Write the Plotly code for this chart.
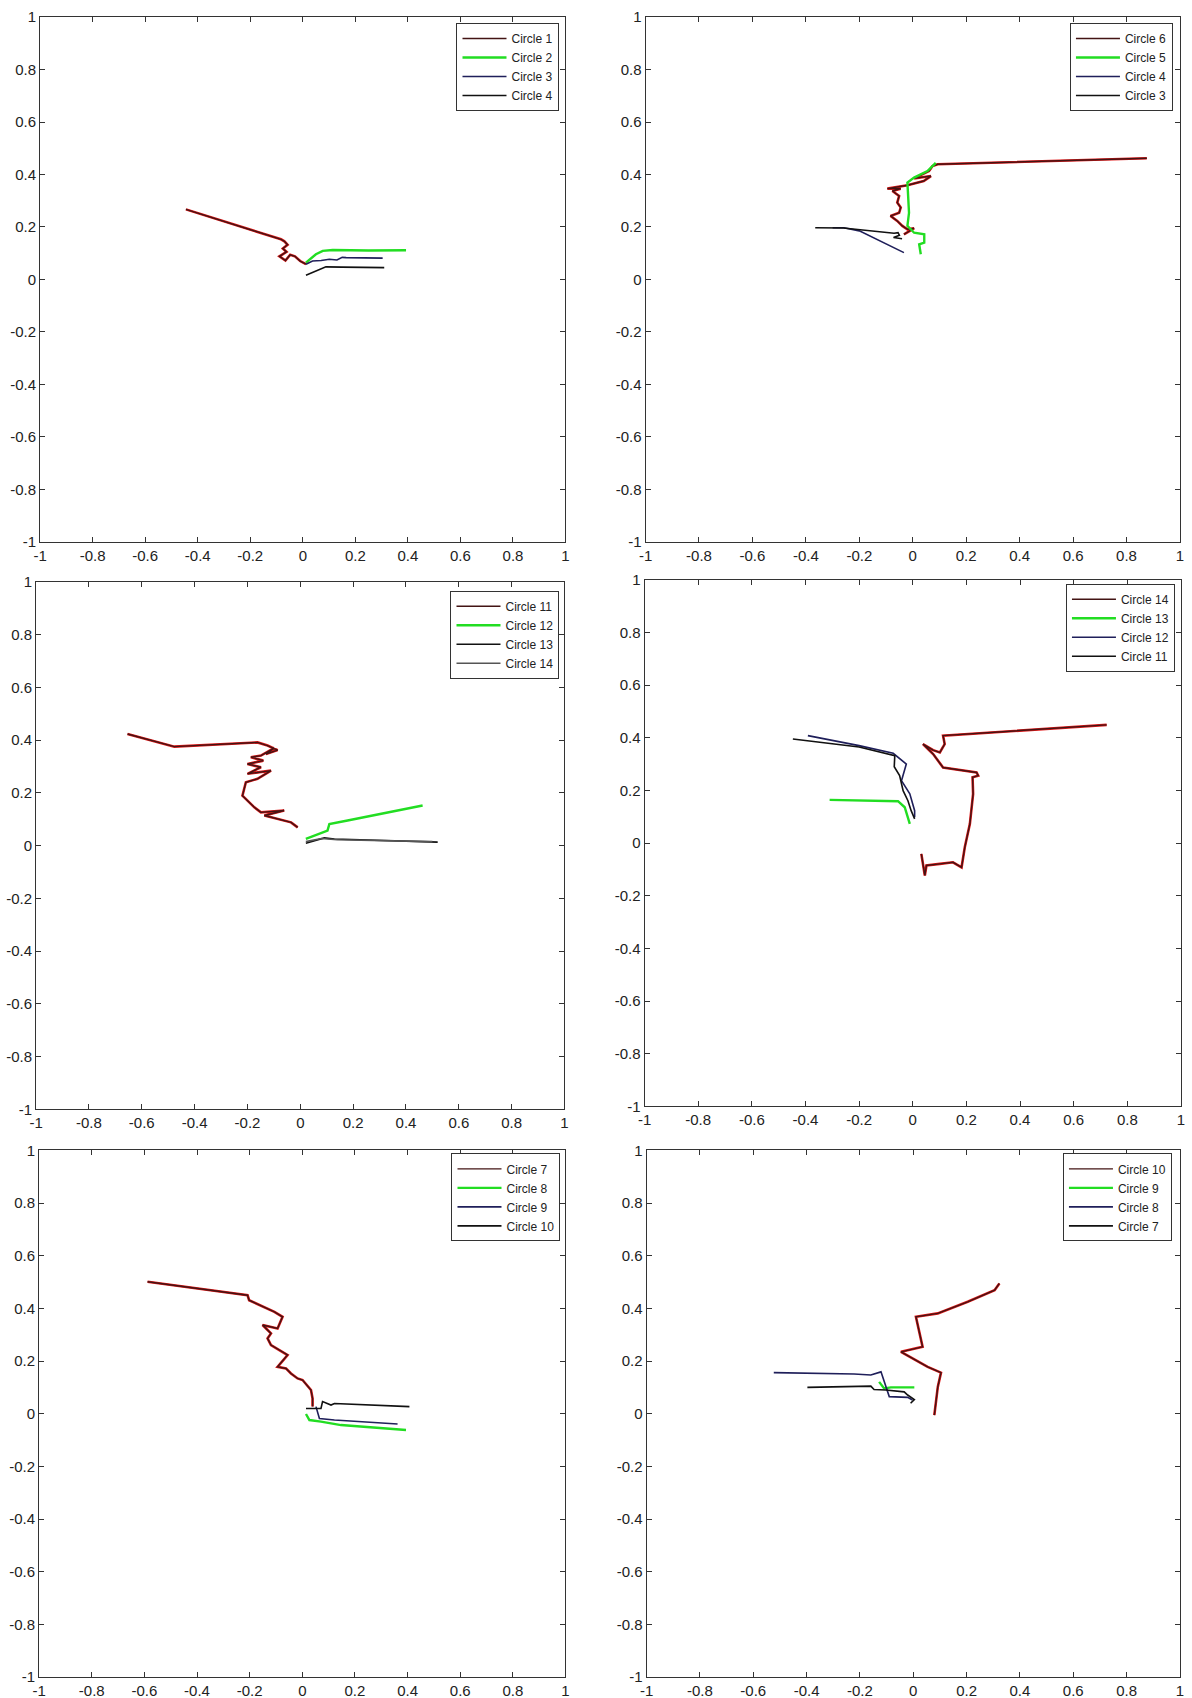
import plotly.graph_objects as go

# Observed rendering: page pixel = S * (OFF + figure pixel)
OFF = 8
S = 0.99
W = int(round(1192 / S - 2 * OFF))
H = int(round(1698 / S - 2 * OFF))


def fpx(p):
    """convert a target page pixel to a figure pixel"""
    return p / S - OFF


# ---------------- data ----------------
tick_vals = [-1, -0.8, -0.6, -0.4, -0.2, 0, 0.2, 0.4, 0.6, 0.8, 1]
tick_text = ["-1", "-0.8", "-0.6", "-0.4", "-0.2", "0", "0.2", "0.4", "0.6", "0.8", "1"]

# Panel 1
p1_c1_x = [-0.445, -0.083, -0.070, -0.058, -0.076, -0.062, -0.089, -0.066, -0.048, -0.030, -0.010, 0.012]
p1_c1_y = [0.267, 0.153, 0.145, 0.132, 0.118, 0.105, 0.088, 0.072, 0.094, 0.088, 0.070, 0.058]
p1_c2_x = [0.012, 0.030, 0.050, 0.076, 0.114, 0.250, 0.393]
p1_c2_y = [0.064, 0.078, 0.096, 0.109, 0.112, 0.110, 0.111]
p1_c3_x = [0.012, 0.037, 0.070, 0.101, 0.130, 0.150, 0.165, 0.200, 0.304]
p1_c3_y = [0.058, 0.070, 0.072, 0.077, 0.074, 0.084, 0.083, 0.082, 0.081]
p1_c4_x = [0.012, 0.037, 0.063, 0.088, 0.150, 0.310]
p1_c4_y = [0.016, 0.026, 0.039, 0.048, 0.047, 0.045]

# Panel 2
p2_c6_x = [0.876, 0.093, 0.074, 0.061, 0.005, 0.068, 0.041, -0.020, -0.095, -0.045, -0.076, -0.051,
           -0.058, -0.045, -0.051, -0.083, -0.058, -0.039, -0.020, 0.005, -0.033]
p2_c6_y = [0.462, 0.439, 0.432, 0.413, 0.385, 0.394, 0.375, 0.359, 0.346, 0.346, 0.337, 0.318,
           0.293, 0.274, 0.254, 0.242, 0.223, 0.204, 0.191, 0.195, 0.172]
p2_c5_x = [0.086, 0.055, 0.005, -0.020, -0.014, -0.020, 0.005, 0.043, 0.043, 0.024, 0.030]
p2_c5_y = [0.444, 0.413, 0.388, 0.369, 0.254, 0.204, 0.178, 0.172, 0.140, 0.134, 0.096]
p2_c4_x = [-0.300, -0.258, -0.200, -0.033]
p2_c4_y = [0.197, 0.197, 0.185, 0.102]
p2_c3_x = [-0.365, -0.260, -0.070, -0.055, -0.050, -0.072, -0.040]
p2_c3_y = [0.197, 0.196, 0.176, 0.178, 0.168, 0.160, 0.155]

# Panel 3
p3_c11_x = [-0.654, -0.477, -0.162, -0.124, -0.086, -0.130, -0.098, -0.149, -0.187, -0.140, -0.200,
            -0.149, -0.200, -0.111, -0.162, -0.206, -0.219, -0.200, -0.174, -0.149, -0.061, -0.136,
            -0.073, -0.035, -0.010]
p3_c11_y = [0.423, 0.375, 0.391, 0.379, 0.362, 0.347, 0.370, 0.341, 0.335, 0.322, 0.309,
            0.297, 0.272, 0.284, 0.253, 0.240, 0.189, 0.170, 0.145, 0.126, 0.133, 0.114,
            0.097, 0.088, 0.069]
p3_c12_x = [0.021, 0.053, 0.103, 0.110, 0.179, 0.463]
p3_c12_y = [0.025, 0.038, 0.057, 0.082, 0.095, 0.152]
p3_c13_x = [0.021, 0.091, 0.129, 0.520]
p3_c13_y = [0.009, 0.029, 0.025, 0.013]
p3_c14_x = [0.021, 0.080, 0.140, 0.500]
p3_c14_y = [0.015, 0.027, 0.022, 0.015]

# Panel 4
p4_c14_x = [0.723, 0.113, 0.119, 0.101, 0.076, 0.038, 0.076, 0.113, 0.238, 0.244, 0.223, 0.225,
            0.213, 0.194, 0.182, 0.150, 0.101, 0.051, 0.045, 0.040, 0.032]
p4_c14_y = [0.449, 0.408, 0.376, 0.344, 0.353, 0.376, 0.338, 0.287, 0.268, 0.256, 0.250, 0.187,
            0.073, -0.016, -0.092, -0.073, -0.079, -0.085, -0.123, -0.090, -0.041]
p4_c13_x = [-0.310, -0.055, -0.030, -0.011]
p4_c13_y = [0.164, 0.159, 0.136, 0.073]
p4_c12_x = [-0.391, -0.200, -0.073, -0.024, -0.042, -0.011, 0.007, 0.007]
p4_c12_y = [0.408, 0.370, 0.341, 0.300, 0.237, 0.187, 0.123, 0.098]
p4_c11_x = [-0.447, -0.200, -0.067, -0.069, -0.049, -0.036, -0.018, -0.006, 0.007]
p4_c11_y = [0.395, 0.365, 0.332, 0.290, 0.256, 0.199, 0.161, 0.123, 0.092]

# Panel 5
p5_c7_x = [-0.588, -0.208, -0.202, -0.106, -0.075, -0.094, -0.151, -0.119, -0.132, -0.119, -0.056,
           -0.094, -0.062, -0.043, -0.018, 0.001, 0.033, 0.039, 0.039]
p5_c7_y = [0.501, 0.450, 0.431, 0.387, 0.368, 0.324, 0.337, 0.305, 0.286, 0.261, 0.223,
           0.178, 0.172, 0.153, 0.134, 0.128, 0.090, 0.058, 0.027]
p5_c8_x = [0.014, 0.027, 0.071, 0.147, 0.394]
p5_c8_y = [-0.001, -0.024, -0.030, -0.043, -0.062]
p5_c9_x = [0.052, 0.065, 0.122, 0.362]
p5_c9_y = [0.027, -0.018, -0.024, -0.039]
p5_c10_x = [0.014, 0.071, 0.077, 0.109, 0.122, 0.407]
p5_c10_y = [0.020, 0.020, 0.046, 0.033, 0.039, 0.027]

# Panel 6
p6_c10_x = [0.323, 0.305, 0.204, 0.092, 0.010, 0.035, -0.046, 0.054, 0.104, 0.092, 0.079]
p6_c10_y = [0.495, 0.469, 0.425, 0.381, 0.368, 0.254, 0.235, 0.178, 0.156, 0.102, -0.005]
p6_c9_x = [-0.128, -0.109, -0.084, 0.004]
p6_c9_y = [0.121, 0.096, 0.100, 0.100]
p6_c8_x = [-0.523, -0.222, -0.159, -0.121, -0.090, -0.021, -0.003]
p6_c8_y = [0.156, 0.151, 0.147, 0.159, 0.065, 0.062, 0.052]
p6_c7_x = [-0.397, -0.159, -0.147, -0.103, -0.034, -0.021, 0.004, -0.010]
p6_c7_y = [0.100, 0.105, 0.092, 0.090, 0.083, 0.071, 0.054, 0.040]

# ---------------- styling / layout ----------------
MAROON = "#431414"
RED = "#e01818"
GREEN = "#22dd22"
NAVY = "#1f1f5a"
BLACK = "#111111"
GRAY = "#555555"

# target page-pixel boxes (left, top, right, bottom) and legend top-right corners
panels = [
    dict(box=(41, 16, 566, 541), leg=(560, 22),
         series=[("Circle 1", p1_c1_x, p1_c1_y, MAROON), ("Circle 2", p1_c2_x, p1_c2_y, GREEN),
                 ("Circle 3", p1_c3_x, p1_c3_y, NAVY), ("Circle 4", p1_c4_x, p1_c4_y, BLACK)]),
    dict(box=(646, 16, 1180, 541), leg=(1173, 22),
         series=[("Circle 6", p2_c6_x, p2_c6_y, MAROON), ("Circle 5", p2_c5_x, p2_c5_y, GREEN),
                 ("Circle 4", p2_c4_x, p2_c4_y, NAVY), ("Circle 3", p2_c3_x, p2_c3_y, BLACK)]),
    dict(box=(37, 581, 565, 1109), leg=(560, 590),
         series=[("Circle 11", p3_c11_x, p3_c11_y, MAROON), ("Circle 12", p3_c12_x, p3_c12_y, GREEN),
                 ("Circle 13", p3_c13_x, p3_c13_y, BLACK), ("Circle 14", p3_c14_x, p3_c14_y, GRAY)]),
    dict(box=(645, 579, 1181, 1106), leg=(1175, 583),
         series=[("Circle 14", p4_c14_x, p4_c14_y, MAROON), ("Circle 13", p4_c13_x, p4_c13_y, GREEN),
                 ("Circle 12", p4_c12_x, p4_c12_y, NAVY), ("Circle 11", p4_c11_x, p4_c11_y, BLACK)]),
    dict(box=(40, 1150, 566, 1677), leg=(561, 1153),
         series=[("Circle 7", p5_c7_x, p5_c7_y, MAROON), ("Circle 8", p5_c8_x, p5_c8_y, GREEN),
                 ("Circle 9", p5_c9_x, p5_c9_y, NAVY), ("Circle 10", p5_c10_x, p5_c10_y, BLACK)]),
    dict(box=(647, 1150, 1180, 1677), leg=(1172, 1153),
         series=[("Circle 10", p6_c10_x, p6_c10_y, MAROON), ("Circle 9", p6_c9_x, p6_c9_y, GREEN),
                 ("Circle 8", p6_c8_x, p6_c8_y, NAVY), ("Circle 7", p6_c7_x, p6_c7_y, BLACK)]),
]

FONT = "Arial, Liberation Sans, Helvetica, sans-serif"
fig = go.Figure()
layout = dict(width=W, height=H, margin=dict(l=0, r=0, t=0, b=0),
              paper_bgcolor="white", plot_bgcolor="white",
              font=dict(family=FONT, size=14, color="#222"), showlegend=True)

for i, p in enumerate(panels):
    n = i + 1
    xa = "x" if n == 1 else f"x{n}"
    ya = "y" if n == 1 else f"y{n}"
    lg = "legend" if n == 1 else f"legend{n}"
    x0, y0, x1, y1 = [fpx(v) for v in p["box"]]
    axis_common = dict(range=[-1, 1], showgrid=False, zeroline=False, showline=True,
                       linecolor="#333", linewidth=1, mirror="allticks", ticks="inside",
                       ticklen=5, tickcolor="#333", tickvals=tick_vals, ticktext=tick_text,
                       tickfont=dict(size=15, family=FONT, color="#222"), fixedrange=True)
    layout["xaxis" if n == 1 else f"xaxis{n}"] = dict(axis_common, domain=[x0 / W, x1 / W], anchor=ya)
    layout["yaxis" if n == 1 else f"yaxis{n}"] = dict(axis_common, domain=[1 - y1 / H, 1 - y0 / H], anchor=xa)
    lx, ly = fpx(p["leg"][0]), fpx(p["leg"][1])
    layout[lg] = dict(x=lx / W, y=1 - ly / H, xanchor="right", yanchor="top",
                      bordercolor="#333", borderwidth=1, bgcolor="white",
                      font=dict(size=12, family=FONT, color="#222"), tracegroupgap=0,
                      itemwidth=44)
    for k, (name, xs, ys, col) in enumerate(p["series"]):
        if k == 0:
            # red fringe under the dark trajectory
            fig.add_trace(go.Scatter(x=xs, y=ys, mode="lines", xaxis=xa, yaxis=ya,
                                     line=dict(color=RED, width=2.6), showlegend=False,
                                     hoverinfo="skip", legend=lg))
            fig.add_trace(go.Scatter(x=xs, y=ys, mode="lines", name=name, xaxis=xa, yaxis=ya,
                                     line=dict(color=col, width=1.4), legend=lg))
        else:
            w = 2.4 if col == GREEN else 1.6
            fig.add_trace(go.Scatter(x=xs, y=ys, mode="lines", name=name, xaxis=xa, yaxis=ya,
                                     line=dict(color=col, width=w), legend=lg))

fig.update_layout(**layout)
fig.write_html("out.html")
